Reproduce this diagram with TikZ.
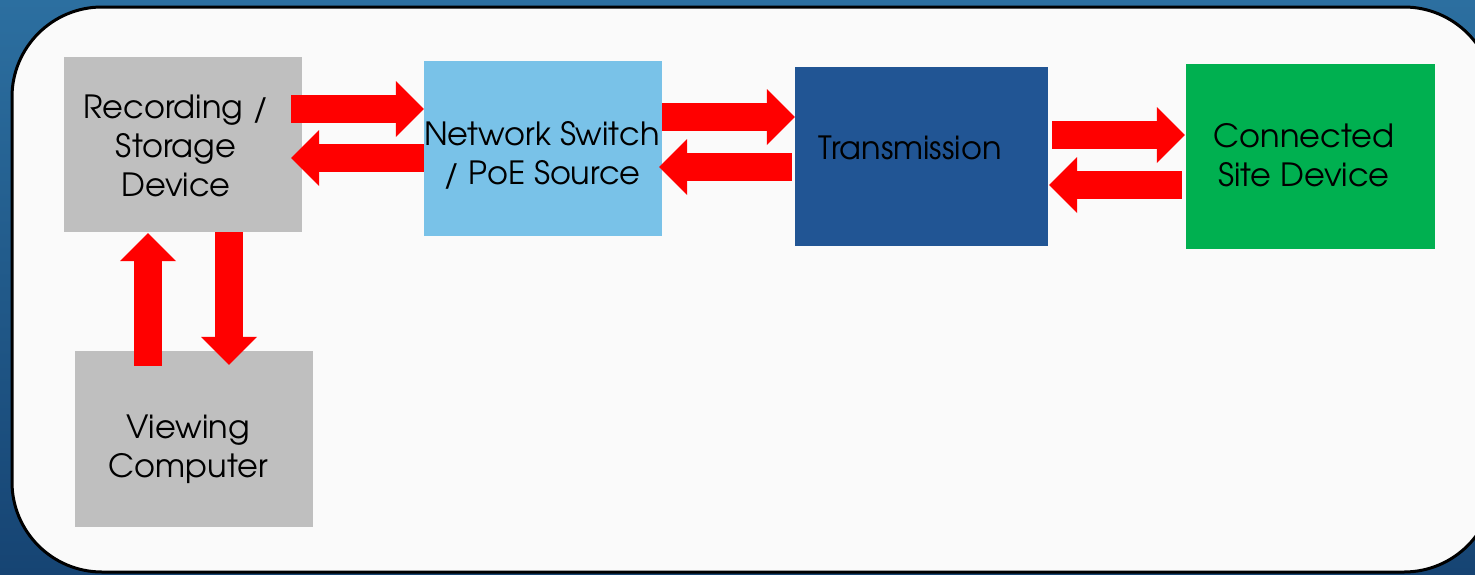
\documentclass[tikz,border=0pt]{standalone}
\usepackage{fontspec}
\setmainfont{TeX Gyre Adventor}
\usetikzlibrary{arrows.meta,calc}

\definecolor{bgtop}{HTML}{2C6FA0}
\definecolor{bgbot}{HTML}{164473}
\definecolor{panel}{HTML}{FAFAFA}
\definecolor{boxgray}{HTML}{BFBFBF}
\definecolor{switchblue}{HTML}{79C2E8}
\definecolor{linkblue}{HTML}{215594}
\definecolor{sitegreen}{HTML}{00B050}

\tikzset{
  box/.style={inner sep=0pt, draw=none},
  lbl/.style={align=center, inner sep=0pt, text=black,
              font=\fontsize{32}{39}\selectfont},
  barrow/.style={draw=red, line width=28pt,
                 -{Triangle[length=28pt,width=56pt,line width=0pt]}},
}

\begin{document}
\begin{tikzpicture}[x=1pt,y=-1pt]
\useasboundingbox (0,0) rectangle (1475,574);

% backdrop and white panel
\shade[top color=bgtop, bottom color=bgbot] (0,0) rectangle (1475,574);
\draw[fill=panel, line width=3pt, rounded corners=90pt] (12,7) rectangle (1494,572);

% blocks
\node[box, fill=boxgray, minimum width=238pt, minimum height=175pt] (rec) at (183,144.5) {};
\node[box, fill=switchblue, minimum width=238pt, minimum height=175pt] (ns) at (543,148.5) {};
\node[box, fill=linkblue, minimum width=253pt, minimum height=179pt] (tr) at (921.5,156.5) {};
\node[box, fill=sitegreen, minimum width=249pt, minimum height=185pt] (cn) at (1310.5,156.5) {};
\node[box, fill=boxgray, minimum width=238pt, minimum height=176pt] (vc) at (194,439) {};

% block captions
\node[lbl] (recT) at ($(rec)+(-7,1.5)$) {Recording /\\Storage\\Device};
\node[lbl] (nsT) at ($(ns)+(-1,6.5)$) {Network Switch\\/ PoE Source};
\node[lbl] (trT) at ($(tr)+(-11.5,-8.5)$) {Transmission};
\node[lbl] (cnT) at ($(cn)+(-6.5,-1.5)$) {Connected\\Site Device};
\node[lbl] (vcT) at ($(vc)+(-6,10)$) {Viewing\\Computer};

% recorder <-> switch
\draw[barrow] ($(rec.east)+(-11,-35.5)$) -- ($(ns.west)+(0,-39.5)$);
\draw[barrow] ($(ns.west)+(0,9.5)$) -- ($(rec.east)+(-11,13.5)$);
% switch <-> transmission
\draw[barrow] ($(ns.east)+(0,-31.5)$) -- ($(tr.west)+(0,-39.5)$);
\draw[barrow] ($(tr.west)+(-3,10.5)$) -- ($(ns.east)+(-3,18.5)$);
% transmission <-> site device
\draw[barrow] ($(tr.east)+(4,-21.5)$) -- ($(cn.west)+(-1,-21.5)$);
\draw[barrow] ($(cn.west)+(-4,28.5)$) -- ($(tr.east)+(1,28.5)$);
% recorder <-> viewing computer
\draw[barrow] ($(vc.north)+(-46,15)$) -- ($(rec.south)+(-35,1)$);
\draw[barrow] ($(rec.south)+(46,0)$) -- ($(vc.north)+(35,14)$);
\end{tikzpicture}
\end{document}
